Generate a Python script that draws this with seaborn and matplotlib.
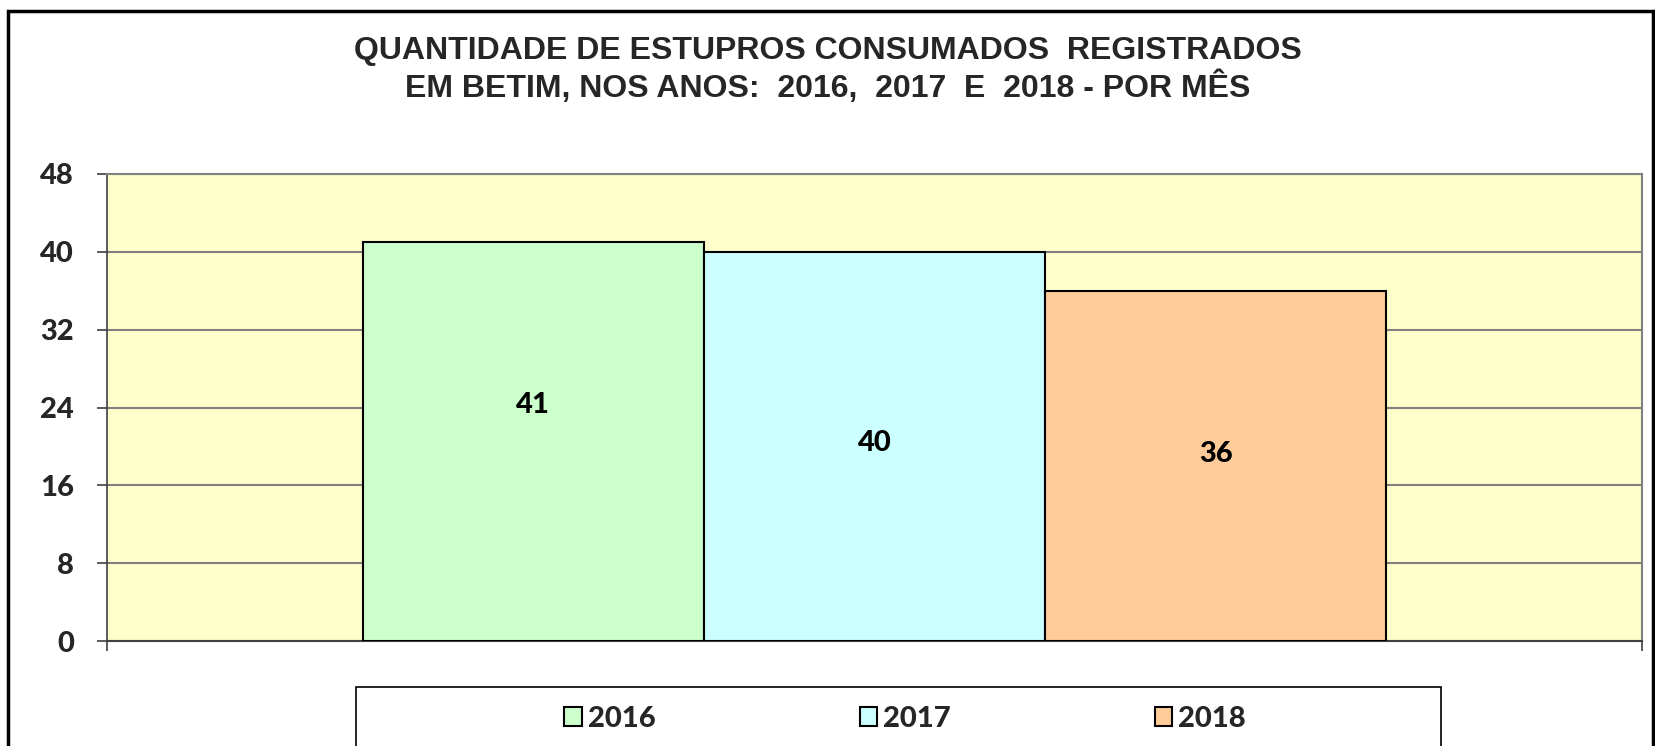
import matplotlib
matplotlib.use("Agg")
import matplotlib.pyplot as plt
from matplotlib.patches import Rectangle, Patch
import seaborn as sns
import pandas as pd

# dados do grafico
anos = ["2016", "2017", "2018"]
quantidade = [41, 40, 36]
cores = ["#CCFFCC", "#CCFFFF", "#FFCC99"]
yticks = [0, 8, 16, 24, 32, 40, 48]
titulo = ("QUANTIDADE DE ESTUPROS CONSUMADOS  REGISTRADOS\n"
          "EM BETIM, NOS ANOS:  2016,  2017  E  2018 - POR MÊS")

sns.set_style("white")
plt.rcParams['font.family'] = ['Lato', 'DejaVu Sans']
num_font = {"family": ["Lato", "DejaVu Sans"], "weight": "black", "size": 21}

df = pd.DataFrame({"Ano": anos, "Quantidade": quantidade})

W, H = 1655, 746
fig = plt.figure(figsize=(W / 100, H / 100), dpi=100)
ax = fig.add_axes([107 / W, 1 - 641 / H, (1642 - 107) / W, (641 - 174) / H])

sns.barplot(data=df, x="Ano", y="Quantidade", hue="Ano", palette=cores,
            saturation=1, width=1.0, edgecolor="black", linewidth=1.5,
            legend=False, ax=ax, zorder=3)

ax.set_facecolor("#FFFFCC")
ax.set_xlim(-1.25, 3.25)
ax.set_ylim(0, 48)
ax.set_yticks(yticks)
ax.set_yticklabels([str(t) for t in yticks], fontdict=num_font)
ax.set_xticks([-1.25, 3.25])
ax.set_xticklabels(["", ""])
ax.set_xlabel("")
ax.set_ylabel("")
ax.yaxis.grid(True, color="#808080", lw=1.5)
ax.set_axisbelow(True)
ax.tick_params(axis="y", length=7.2, width=1.2, color="#404040", pad=16.5, left=True)
ax.tick_params(axis="x", length=7.2, width=1.2, color="#404040", bottom=True)

for s in ["top", "right"]:
    ax.spines[s].set_color("#808080")
    ax.spines[s].set_linewidth(1.5)
ax.spines["left"].set_color("#404040")
ax.spines["left"].set_linewidth(1.2)
ax.spines["bottom"].set_color("#404040")
ax.spines["bottom"].set_linewidth(1.5)

# rotulos dos valores (posicao como no excel)
label_y = [24.3, 20.4, 19.2]
for i, (v, yl) in enumerate(zip(quantidade, label_y)):
    ax.text(i, yl, str(v), ha="center", va="center", fontdict=num_font,
            color="black", zorder=4)

fig.text(0.5, 1 - 70 / H, titulo, ha="center", va="center", fontsize=23,
         fontweight="bold", family=["Liberation Sans", "DejaVu Sans"],
         linespacing=1.15)

handles = [Patch(facecolor=c, edgecolor="black", lw=1.5, label=a)
           for a, c in zip(anos, cores)]
fig.legend(handles=handles, loc="center", bbox_to_anchor=(905 / W, 1 - 719 / H),
           ncol=3, frameon=False, prop=num_font,
           handlelength=0.6, handleheight=0.6, handletextpad=0.2,
           columnspacing=7.0)

# moldura da legenda e do grafico
fig.add_artist(Rectangle((356 / W, -0.1), (1441 - 356) / W, (1 - 687 / H) + 0.1,
                         transform=fig.transFigure, fill=False,
                         edgecolor="black", lw=1.2))
fig.add_artist(Rectangle((8 / W, -0.1), (1653 - 8) / W, (1 - 11 / H) + 0.1,
                         transform=fig.transFigure, fill=False,
                         edgecolor="black", lw=2.5))

fig.savefig("out.png", dpi=100)
